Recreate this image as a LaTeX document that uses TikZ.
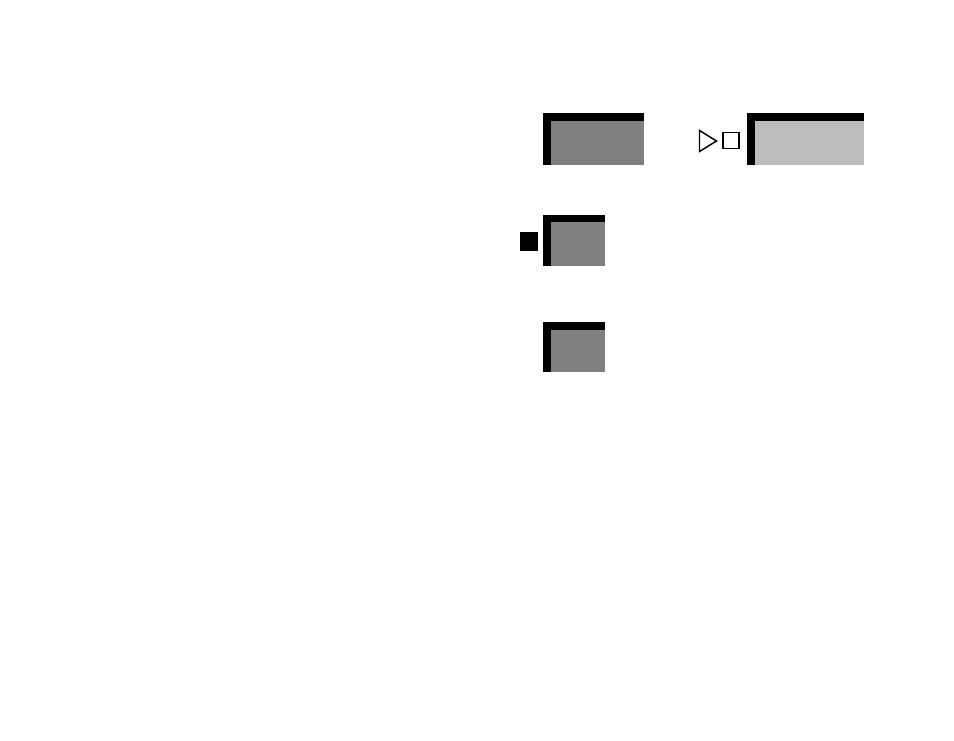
\documentclass[tikz,border=0pt]{standalone}
\usepackage{tikz}
\usetikzlibrary{positioning}

\tikzset{
  frame/.style={fill=black, inner sep=0pt, anchor=north west},
  pane/.style={inner sep=0pt, anchor=south east},
}

\begin{document}
\begin{tikzpicture}[x=0.75pt, y=-0.75pt]
\useasboundingbox (0,0) rectangle (954,740);
% framed boxes
\node (one) [frame, minimum width=75.75pt, minimum height=39pt] at (543,113) {};
\node (onein) [pane, fill=gray, minimum width=69.75pt, minimum height=33pt] at (one.south east) {};
\node (two) [frame, minimum width=87.75pt, minimum height=39pt] at (747,113) {};
\node (twoin) [pane, fill=lightgray!97!gray, minimum width=81.75pt, minimum height=33pt] at (two.south east) {};
\node (three) [frame, minimum width=46.5pt, minimum height=38.25pt] at (543,215) {};
\node (threein) [pane, fill=gray, minimum width=40.5pt, minimum height=33pt] at (three.south east) {};
\node (four) [frame, minimum width=46.5pt, minimum height=37.5pt] at (543,322) {};
\node (fourin) [pane, fill=gray, minimum width=40.5pt, minimum height=31.5pt] at (four.south east) {};

% markers
\draw[line width=1.1pt, line join=miter] (699.5,130.5) -- (699.5,151.5) -- (716.5,141) -- cycle;
\node (mark) [draw, line width=1.1pt, inner sep=0pt, minimum size=12pt] at (731,140.5) {};
\node (stop) [fill=black, inner sep=0pt, minimum width=13.5pt, minimum height=14.25pt] at (529,241.5) {};
\end{tikzpicture}
\end{document}
